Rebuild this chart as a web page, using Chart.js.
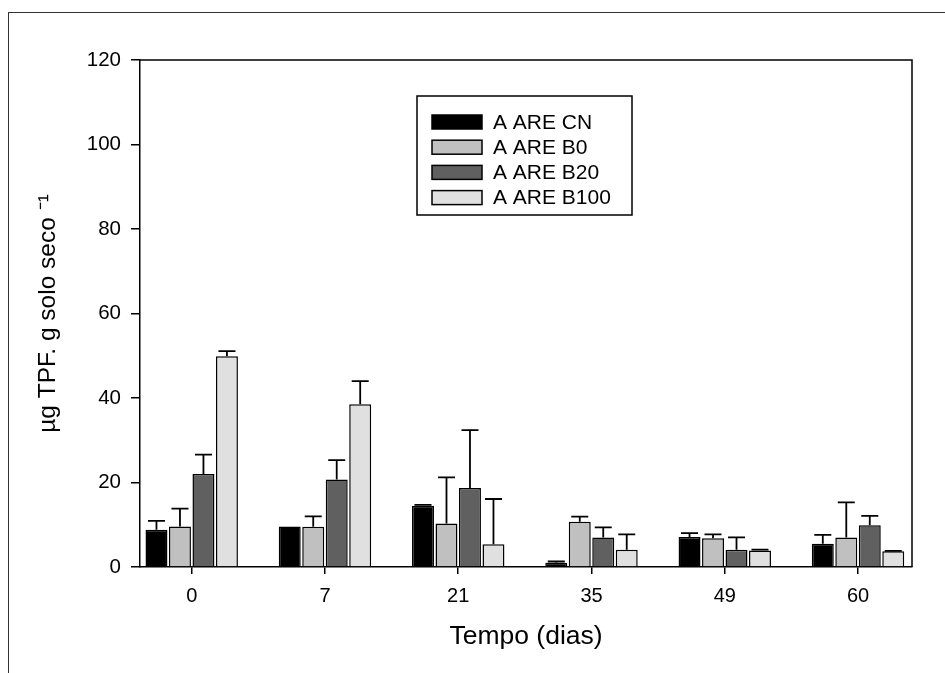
<!DOCTYPE html>
<html>
<head>
<meta charset="utf-8">
<script src="https://cdn.jsdelivr.net/npm/chart.js@4/dist/chart.umd.min.js"></script>
<style>
  html, body { margin: 0; padding: 0; background: #fff; }
  #wrap { position: relative; width: 945px; height: 673px; }
  #frame { position: absolute; left: 8px; top: 12px; right: 0; bottom: 0;
           border-top: 1.5px solid #333; border-left: 1.5px solid #333; pointer-events: none; }
  canvas { position: absolute; left: 0; top: 0; }
</style>
</head>
<body>
<div id="wrap">
  <canvas id="c" width="945" height="673"></canvas>
  <div id="frame"></div>
</div>
<script>
const categories = ['0', '7', '21', '35', '49', '60'];
const seriesNames = ['A ARE CN', 'A ARE B0', 'A ARE B20', 'A ARE B100'];
const cnValues   = [8.8, 9.6, 14.5, 1.0, 7.1, 5.5];
const cnErrors   = [2.1, 0, 0.2, 0.3, 0.9, 2.1];
const b0Values   = [9.6, 9.5, 10.3, 10.7, 6.8, 7.0];
const b0Errors   = [4.2, 2.5, 10.9, 1.2, 0.9, 8.3];
const b20Values  = [22.0, 20.7, 18.7, 7.0, 4.1, 9.9];
const b20Errors  = [4.6, 4.6, 13.7, 2.4, 2.9, 2.2];
const b100Values = [49.9, 38.5, 5.4, 4.1, 3.9, 3.7];
const b100Errors = [1.2, 5.5, 10.7, 3.6, 0.2, 0.1];
const yTicks = [0, 20, 40, 60, 80, 100, 120];

const colors = ['#000000', '#c0c0c0', '#606060', '#e0e0e0'];
const valueSets = [cnValues, b0Values, b20Values, b100Values];
const errorSets = [cnErrors, b0Errors, b20Errors, b100Errors];
const FONT = '"Liberation Sans", Arial, Helvetica, sans-serif';

const datasets = seriesNames.map((name, k) => ({
  label: name,
  data: valueSets[k].map((v, i) => ({ x: i, y: v })),
  errors: errorSets[k],
  backgroundColor: colors[k],
  borderColor: '#000',
  borderWidth: 1.5,
  borderSkipped: 'start',
  categoryPercentage: 0.705,
  barPercentage: 0.935
}));

const errorBars = {
  id: 'errorBars',
  afterDatasetsDraw(chart) {
    const ctx = chart.ctx;
    const y = chart.scales.y;
    ctx.save();
    ctx.strokeStyle = '#000';
    ctx.lineWidth = 1.8;
    chart.data.datasets.forEach((ds, di) => {
      const meta = chart.getDatasetMeta(di);
      meta.data.forEach((el, i) => {
        const err = ds.errors[i];
        if (!err) return;
        const top = y.getPixelForValue(ds.data[i].y + err);
        ctx.beginPath();
        ctx.moveTo(el.x, el.y);
        ctx.lineTo(el.x, top);
        ctx.moveTo(el.x - 8.5, top);
        ctx.lineTo(el.x + 8.5, top);
        ctx.stroke();
      });
    });
    ctx.restore();
  }
};

const plotBox = {
  id: 'plotBox',
  afterDraw(chart) {
    const { ctx, chartArea: a } = chart;
    ctx.save();
    ctx.strokeStyle = '#000';
    ctx.lineWidth = 1.5;
    ctx.beginPath();
    ctx.moveTo(a.left, a.top);
    ctx.lineTo(a.right, a.top);
    ctx.lineTo(a.right, a.bottom);
    ctx.stroke();
    ctx.restore();
  }
};

const boxLegend = {
  id: 'boxLegend',
  afterDraw(chart) {
    const { ctx, chartArea: a } = chart;
    const bx = a.left + 277, by = a.top + 36, bw = 215, bh = 119;
    ctx.save();
    ctx.fillStyle = '#fff';
    ctx.fillRect(bx, by, bw, bh);
    ctx.strokeStyle = '#000';
    ctx.lineWidth = 1.5;
    ctx.strokeRect(bx, by, bw, bh);
    ctx.font = '21px ' + FONT;
    ctx.textBaseline = 'middle';
    ctx.textAlign = 'left';
    chart.data.datasets.forEach((ds, k) => {
      const cy = by + 26 + k * 25.2;
      ctx.fillStyle = ds.backgroundColor;
      ctx.fillRect(bx + 15, cy - 7, 50, 14);
      ctx.strokeRect(bx + 15, cy - 7, 50, 14);
      ctx.fillStyle = '#000';
      ctx.fillText(ds.label, bx + 76, cy + 1);
    });
    ctx.restore();
  }
};

new Chart(document.getElementById('c'), {
  type: 'bar',
  data: { datasets },
  options: {
    responsive: false,
    animation: false,
    devicePixelRatio: 1,
    layout: { padding: { top: 60, right: 33, left: 0, bottom: 0 } },
    plugins: { legend: { display: false }, tooltip: { enabled: false } },
    scales: {
      x: {
        type: 'linear',
        min: -0.388,
        max: 5.405,
        offset: false,
        grid: { display: true, drawOnChartArea: false, drawTicks: true, tickLength: 7, color: '#000', lineWidth: 1.5, offset: false },
        border: { display: true, color: '#000', width: 1.5 },
        ticks: {
          padding: 10,
          color: '#000',
          font: { family: FONT, size: 20 },
          callback: (v) => {
            const i = Math.round(v);
            return categories[i] !== undefined ? categories[i] : '';
          }
        },
        afterBuildTicks: (scale) => {
          scale.ticks = categories.map((c, i) => ({ value: i }));
        },
        afterFit: (scale) => { scale.height = 106; },
        title: {
          display: true,
          text: 'Tempo (dias)',
          color: '#000',
          font: { family: FONT, size: 26.5 },
          padding: { top: 0, bottom: 20 }
        }
      },
      y: {
        min: 0,
        max: 120,
        grid: { display: true, drawOnChartArea: false, drawTicks: true, tickLength: 9, color: '#000', lineWidth: 1.5 },
        border: { display: true, color: '#000', width: 1.5 },
        afterBuildTicks: (scale) => { scale.ticks = yTicks.map(v => ({ value: v })); },
        ticks: {
          padding: 10,
          color: '#000',
          font: { family: FONT, size: 20.5 }
        },
        afterFit: (scale) => { scale.width = 140; },
        title: {
          display: true,
          text: 'µg TPF. g solo seco ⁻¹',
          color: '#000',
          font: { family: FONT, size: 24.5 },
          padding: { top: 34, bottom: 0 }
        }
      }
    }
  },
  plugins: [errorBars, plotBox, boxLegend]
});
</script>
</body>
</html>
